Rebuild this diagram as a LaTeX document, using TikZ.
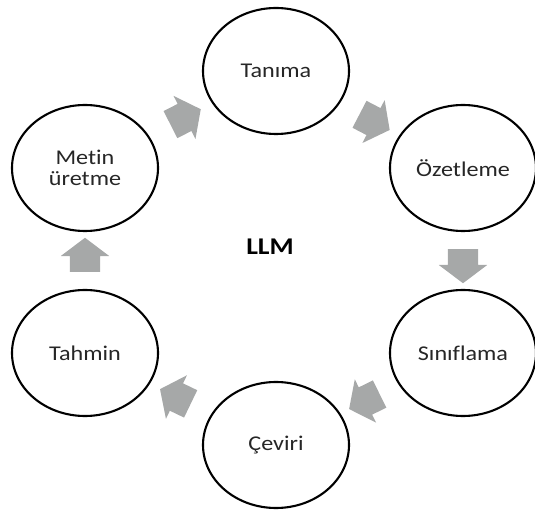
\documentclass[tikz,border=0pt]{standalone}
\usepackage{fontspec}
\setmainfont{Carlito}[FakeStretch=1.15,Ligatures=NoCommon]
\usetikzlibrary{shapes.geometric,shapes.arrows}
\definecolor{arrowgray}{RGB}{166,168,168}
\definecolor{textgray}{RGB}{38,38,38}
\tikzset{
  task/.style={draw=black, line width=2.1pt, ellipse, minimum width=146pt,
    minimum height=126pt, inner sep=0pt, align=center, text=textgray,
    font=\fontsize{21}{21}\selectfont},
  flow/.style={single arrow, fill=arrowgray, draw=none, minimum height=34pt,
    inner xsep=0pt, inner ysep=15pt, single arrow head extend=9pt,
    single arrow tip angle=106, midway, sloped, allow upside down}
}
\begin{document}
\begin{tikzpicture}[x=1pt,y=1pt]
    \useasboundingbox (0,0) rectangle (535,509);
    % the six tasks round the model
    \node[task] (tanima)  at (276,438) {Tanıma};
    \node[task] (ozet)    at (463,341) {Özetleme};
    \node[task] (sinif)   at (463,156) {Sınıflama};
    \node[task] (ceviri)  at (276,64)  {Çeviri};
    \node[task] (tahmin)  at (85,156)  {Tahmin};
    \node[task] (metin)   at (85,341)  {Metin\\üretme};
    \node[text=black, font=\fontsize{24}{24}\selectfont\bfseries] (llm) at (270,262) {LLM};
    % block arrows between neighbours
    \path (metin)  -- node[flow] (a1) {} (tanima);
    \path (tanima) -- node[flow] (a2) {} (ozet);
    \path (ozet)   -- node[flow] (a3) {} (sinif);
    \path (sinif)  -- node[flow] (a4) {} (ceviri);
    \path (ceviri) -- node[flow] (a5) {} (tahmin);
    \path (tahmin) -- node[flow] (a6) {} (metin);
\end{tikzpicture}
\end{document}
